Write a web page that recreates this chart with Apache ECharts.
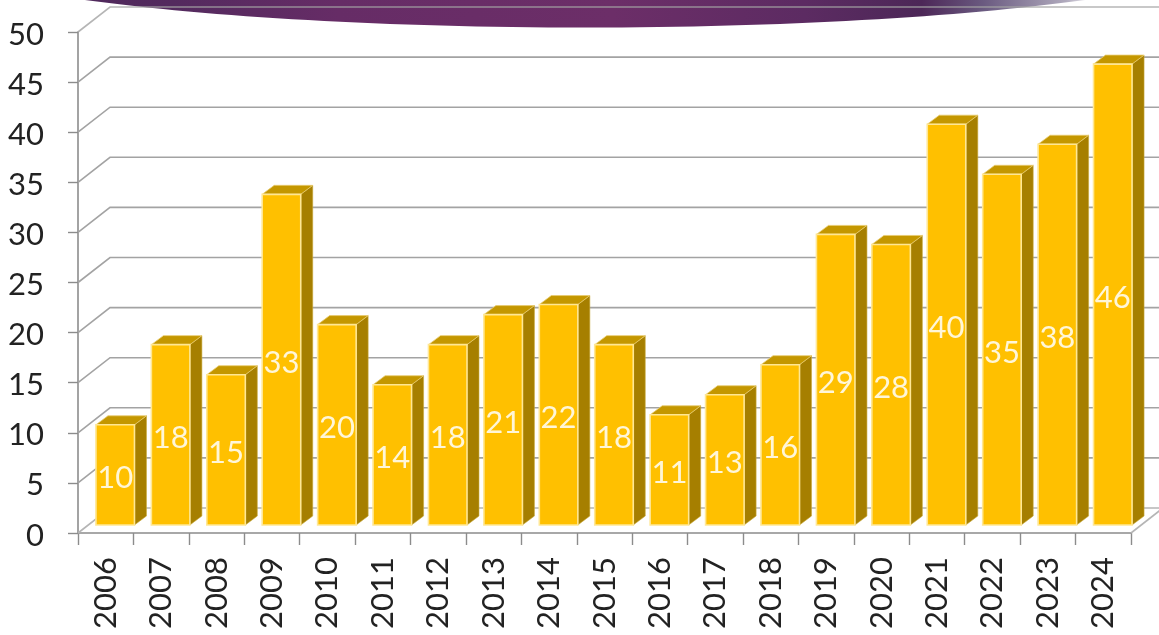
<!DOCTYPE html>
<html>
<head>
<meta charset="utf-8">
<title>chart</title>
<style>
html,body{margin:0;padding:0;background:#fff;}
#main{width:1159px;height:635px;}
</style>
<script src="https://cdn.jsdelivr.net/npm/echarts@6/dist/echarts.min.js"></script>
</head>
<body>
<div id="main"></div>
<script>
var years = ['2006','2007','2008','2009','2010','2011','2012','2013','2014','2015','2016','2017','2018','2019','2020','2021','2022','2023','2024'];
var counts = [10,18,15,33,20,14,18,21,22,18,11,13,16,29,28,40,35,38,46];
var yTicks = [0,5,10,15,20,25,30,35,40,45,50];

var wallX = 32, wallY = 25;   // depth of the side wall
var barX = 9.5, barY = 8;     // how far bars sit behind the front edge
var sideX = 12, sideY = 9;    // depth of one bar
var fontName = 'Lato';

var myChart = echarts.init(document.getElementById('main'));

function renderGrid(params, api){
	var tick = api.value(1);
	var p = api.coord([0, tick]);
	var sys = params.coordSys;
	var left = sys.x, right = sys.x + sys.width;
	var children = [{
		type: 'polyline',
		shape: {points: [[left, p[1]], [left + wallX, p[1] - wallY], [right + wallX, p[1] - wallY]]},
		style: {fill: null, stroke: tick == 0 ? '#b5b5b5' : '#a3a3a3', lineWidth: 1.6, opacity: tick == 50 ? 0.8 : 1}
	}];
	if(tick == 0){
		children.push({
			type: 'line',
			shape: {x1: right, y1: p[1], x2: right + wallX, y2: p[1] - wallY},
			style: {stroke: '#b5b5b5', lineWidth: 1.6}
		});
	}
	return {type: 'group', children: children};
}

function renderBar(params, api){
	var top = api.coord([api.value(0), api.value(1)]);
	var base = api.coord([api.value(0), 0]);
	var w = api.size([1, 0])[0] * 0.695;
	var x0 = top[0] - w / 2 + barX, x1 = x0 + w;
	var y0 = top[1] - barY, y1 = base[1] - barY;
	var edge = '#ffe794';
	return {
		type: 'group',
		children: [{
			type: 'polygon',
			shape: {points: [[x1, y0], [x1 + sideX, y0 - sideY], [x1 + sideX, y1 - sideY], [x1, y1]]},
			style: {fill: '#a67f00', stroke: '#c9a93a', lineWidth: 0.6}
		}, {
			type: 'polygon',
			shape: {points: [[x0, y0], [x0 + sideX, y0 - sideY], [x1 + sideX, y0 - sideY], [x1, y0]]},
			style: {fill: '#c49700', stroke: '#e8cc70', lineWidth: 0.8}
		}, {
			type: 'rect',
			shape: {x: x0, y: y0, width: w, height: y1 - y0},
			style: {fill: '#ffc000', stroke: edge, lineWidth: 1.6}
		}, {
			type: 'text',
			style: {
				x: (x0 + x1) / 2, y: (y0 + y1) / 2 + 3,
				text: String(api.value(1)),
				fill: '#fff6d8', fontSize: 31, fontFamily: fontName, fontWeight: 400,
				align: 'center', verticalAlign: 'middle'
			}
		}]
	};
}

var option = {
	animation: false,
	backgroundColor: '#ffffff',
	graphic: [{
		type: 'ellipse',
		z: -1,
		shape: {cx: 585, cy: -60, rx: 687, ry: 87.5},
		style: {
			fill: new echarts.graphic.LinearGradient(0, 0, 1, 0, [
				{offset: 0, color: '#4a2858'},
				{offset: 0.2, color: '#532a5e'},
				{offset: 0.32, color: '#662c66'},
				{offset: 0.52, color: '#6c2e68'},
				{offset: 0.66, color: '#5c2b62'},
				{offset: 0.745, color: '#4c2757'},
				{offset: 0.79, color: '#6a5a80'},
				{offset: 0.85, color: '#b0aabd'},
				{offset: 0.875, color: '#ffffff'},
				{offset: 1, color: '#ffffff'}
			])
		}
	}],
	grid: {left: 78, top: 32, width: 1053, height: 501},
	xAxis: {
		type: 'category',
		data: years,
		axisLine: {lineStyle: {color: '#8c8c8c', width: 1.6}},
		axisTick: {show: true, alignWithLabel: false, length: 12, lineStyle: {color: '#8c8c8c', width: 1.4}},
		axisLabel: {rotate: 90, margin: 24, fontSize: 31, fontFamily: fontName, color: '#222222', interval: 0}
	},
	yAxis: {
		type: 'value',
		min: 0,
		max: 50,
		interval: 5,
		axisLine: {show: true, lineStyle: {color: '#8c8c8c', width: 1.6}},
		axisTick: {show: true, length: 10, lineStyle: {color: '#8c8c8c', width: 1.4}},
		splitLine: {show: false},
		axisLabel: {
			margin: 34,
			formatter: '{n|{value}}',
			rich: {n: {fontSize: 31, fontFamily: fontName, color: '#222222', padding: [5, 0, 0, 0]}}
		}
	},
	series: [{
		type: 'custom',
		name: 'grid',
		silent: true,
		z: 1,
		renderItem: renderGrid,
		encode: {x: 0, y: 1},
		data: yTicks.map(function(t){ return [0, t]; })
	}, {
		type: 'custom',
		name: 'bars',
		z: 2,
		renderItem: renderBar,
		encode: {x: 0, y: 1},
		data: counts.map(function(v, i){ return [i, v]; })
	}]
};
myChart.setOption(option);
</script>
</body>
</html>
